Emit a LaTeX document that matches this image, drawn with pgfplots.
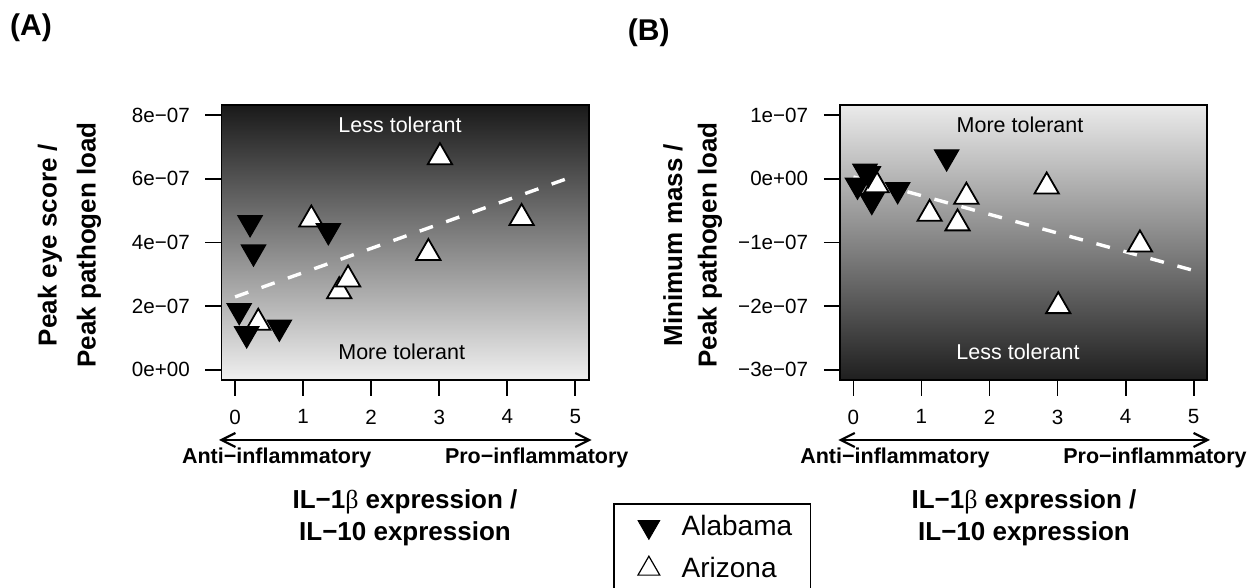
\documentclass[border=0pt]{standalone}
\usepackage{fontspec}
\setmainfont{Liberation Sans}
\newfontfamily\betafont{Liberation Serif}
\usepackage{pgfplots}
\pgfplotsset{compat=1.18}
\usetikzlibrary{arrows.meta}

\newcommand\ticksize{\fontsize{10.3pt}{12pt}\selectfont}
\newcommand\titlesize{\fontsize{13pt}{15pt}\selectfont\bfseries}
\newcommand\polesize{\fontsize{10.75pt}{12pt}\selectfont\bfseries}
\newcommand\notesize{\fontsize{10.75pt}{12pt}\selectfont}
\newcommand\legsize{\fontsize{14pt}{16pt}\selectfont}
\newcommand\be{{\betafont\mdseries β}}

\pgfplotsset{
  panel/.style={
    scale only axis, width=183.75pt, height=137.5pt, anchor=south west,
    xmin=-0.2, xmax=5.2,
    axis line style={line width=0.9pt},
    tick align=outside, major tick length=8pt,
    xtick pos=left, ytick pos=left,
    every tick/.style={black, line width=0.9pt},
    xtick={0,1,2,3,4,5}, xticklabels={0,1,2,3,4,5},
    scaled x ticks=false, scaled y ticks=false,
    tick label style={font=\ticksize},
    xticklabel style={yshift=-3.3pt},
    yticklabel style={xshift=-4.3pt},
  },
  alabama/.style={only marks, mark=triangle*, mark size=7pt,
    mark options={rotate=180, fill=black, draw=black, line width=0.6pt}},
  arizona/.style={only marks, mark=triangle*, mark size=7pt,
    mark options={fill=white, draw=black, line width=0.9pt}},
  fitline/.style={white, line width=1.7pt, dash pattern=on 7pt off 7pt},
}

\begin{document}
\begin{tikzpicture}
\path[use as bounding box] (0,0) rectangle (630pt,294pt);

% (A) eye score
\begin{axis}[panel, at={(110.75pt,104pt)},
  ymin=-0.32e-7, ymax=8.32e-7,
  ytick={0,2e-7,4e-7,6e-7,8e-7},
  yticklabels={0e+00,2e−07,4e−07,6e−07,8e−07},
  axis background/.style={top color=black!90, bottom color=black!6},
  legend image code/.code={\path (-17pt,0pt) (16pt,0pt); \draw[#1] plot coordinates {(0pt,0pt)};},
  legend cell align=left,
  legend style={at={(axis description cs:1.0661,-0.4484)}, anchor=north west,
    draw=black, line width=0.8pt, fill=white, inner xsep=0pt, inner ysep=0.85pt,
    row sep=0pt, font=\legsize,
    nodes={inner xsep=0pt, inner ysep=0pt, text width=64.5pt, minimum height=21pt}},
]
\addlegendimage{mark=triangle*, mark size=6.3pt, mark options={rotate=180, fill=black, draw=black, line width=0.4pt}}
\addlegendentry{Alabama}
\addlegendimage{mark=triangle*, mark size=6.3pt, mark options={fill=white, draw=black, line width=0.6pt}}
\addlegendentry{Arizona}

\addplot[arizona, forget plot] coordinates {
  (0.34,1.48e-7) (1.12,4.72e-7) (1.53,2.47e-7) (1.66,2.84e-7)
  (2.84,3.67e-7) (3.01,6.68e-7) (4.21,4.77e-7)
};
\addplot[alabama, forget plot] coordinates {
  (0.06,1.86e-7) (0.17,1.13e-7) (0.22,4.62e-7) (0.27,3.70e-7)
  (0.65,1.34e-7) (1.37,4.37e-7)
};
\addplot[fitline, forget plot] coordinates {(0,2.29e-7) (5,6.10e-7)};
\end{axis}

% (B) mass
\begin{axis}[panel, at={(419.9pt,104pt)},
  ymin=-3.16e-7, ymax=1.16e-7,
  ytick={-3e-7,-2e-7,-1e-7,0,1e-7},
  yticklabels={−3e−07,−2e−07,−1e−07,0e+00,1e−07},
  axis background/.style={top color=black!8, bottom color=black!88},
]
\addplot[arizona] coordinates {
  (0.34,-0.10e-7) (1.12,-0.55e-7) (1.53,-0.70e-7) (1.66,-0.28e-7)
  (2.84,-0.12e-7) (3.01,-2.00e-7) (4.21,-1.03e-7)
};
\addplot[alabama] coordinates {
  (0.06,-0.10e-7) (0.17,0.12e-7) (0.22,0.08e-7) (0.27,-0.34e-7)
  (0.65,-0.17e-7) (1.37,0.345e-7)
};
\addplot[fitline] coordinates {(0,0.03e-7) (5,-1.44e-7)};
\end{axis}

% text, in pixels of the reference (y up from the bottom)
\begin{scope}[x=0.5pt,y=0.5pt]
\node[font=\fontsize{15pt}{17pt}\selectfont\bfseries] at (31,560) {(A)};
\node[font=\fontsize{15pt}{17pt}\selectfont\bfseries] at (648.7,555) {(B)};

\node[font=\titlesize, rotate=90] at (50,343) {Peak eye score /};
\node[font=\titlesize, rotate=90] at (89,343) {Peak pathogen load};
\node[font=\titlesize, rotate=90] at (673,343) {Minimum mass /};
\node[font=\titlesize, rotate=90] at (710,343) {Peak pathogen load};

\node[font=\notesize, white] at (400,463) {Less tolerant};
\node[font=\notesize] at (401.7,236.3) {More tolerant};
\node[font=\notesize] at (1020,463) {More tolerant};
\node[font=\notesize, white] at (1018,236.3) {Less tolerant};

\draw[line width=1pt, {Straight Barb[length=7pt,width=7pt,line width=1.1pt]}-{Straight Barb[length=7pt,width=7pt,line width=1.1pt]}] (219,148) -- (591.7,148);
\draw[line width=1pt, {Straight Barb[length=7pt,width=7pt,line width=1.1pt]}-{Straight Barb[length=7pt,width=7pt,line width=1.1pt]}] (838.3,148) -- (1210,148);

\node[font=\polesize] at (276.7,130) {Anti−inflammatory};
\node[font=\polesize] at (536.7,130) {Pro−inflammatory};
\node[font=\polesize] at (895,130) {Anti−inflammatory};
\node[font=\polesize] at (1155,130) {Pro−inflammatory};

\node[font=\titlesize] at (405,86.3) {IL−1\be{} expression /};
\node[font=\titlesize] at (405,54.7) {IL−10 expression};
\node[font=\titlesize] at (1024,86.3) {IL−1\be{} expression /};
\node[font=\titlesize] at (1024,54.7) {IL−10 expression};
\end{scope}
\end{tikzpicture}
\end{document}
